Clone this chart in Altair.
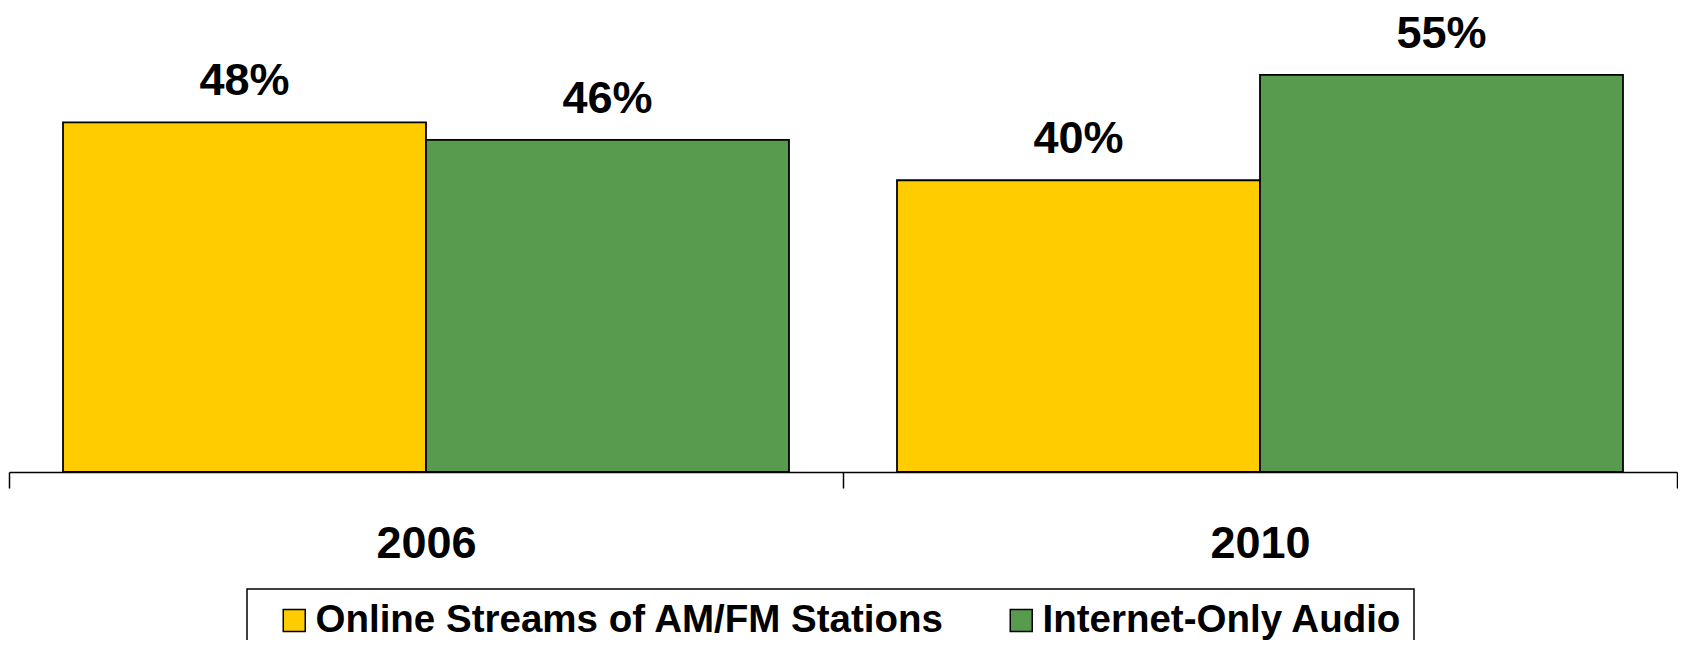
import altair as alt
import pandas as pd

years = ["2006", "2010"]
series = ["Online Streams of AM/FM Stations", "Internet-Only Audio"]
values_online = [48.4, 40.4]
values_internet = [46.0, 55.0]
labels_online = ["48%", "40%"]
labels_internet = ["46%", "55%"]
colors = ["#FFCC00", "#589B4F"]

rows = []
for i, yr in enumerate(years):
    rows.append({"year": yr, "series": series[0], "value": values_online[i], "label": labels_online[i]})
    rows.append({"year": yr, "series": series[1], "value": values_internet[i], "label": labels_internet[i]})
df = pd.DataFrame(rows)

FONT = "Liberation Sans"

base = alt.Chart(df).encode(
    x=alt.X(
        "year:N",
        sort=years,
        scale=alt.Scale(paddingInner=0, paddingOuter=0),
        axis=alt.Axis(
            title=None, labelAngle=0, tickBand="extent",
            domainColor="black", domainWidth=1.5,
            tickColor="black", tickWidth=1.5, tickSize=16,
            labelFont=FONT, labelFontSize=45, labelFontWeight="bold",
            labelColor="black", labelBaseline="alphabetic", labelPadding=69,
        ),
    ),
    xOffset=alt.XOffset("series:N", sort=series,
                        scale=alt.Scale(paddingOuter=0.1488, paddingInner=0)),
    y=alt.Y("value:Q", scale=alt.Scale(domain=[0, 64.25], nice=False, zero=True), axis=None),
)

bars = base.mark_bar(stroke="black", strokeWidth=1.8).encode(
    color=alt.Color(
        "series:N", sort=series,
        scale=alt.Scale(domain=series, range=colors),
        legend=alt.Legend(
            orient="none", legendX=238, legendY=581, direction="horizontal",
            title=None, strokeColor="black", padding=12,
            symbolType="square", symbolSize=484, symbolStrokeColor="black",
            symbolStrokeWidth=1.5, symbolOffset=16,
            labelFont=FONT, labelFontSize=38.5, labelFontWeight="bold",
            labelColor="black", labelOffset=2, columnPadding=41, labelLimit=0,
        ),
    )
)

text = base.mark_text(
    dy=-27, baseline="alphabetic", font=FONT, fontSize=45,
    fontWeight="bold", color="black",
).encode(text="label:N")

chart = (
    alt.layer(bars, text)
    .properties(
        width=1668, height=464,
        autosize=alt.AutoSizeParams(type="none"),
        padding={"left": 1, "top": 0, "right": 1, "bottom": 168},
    )
    .configure_view(stroke=None)
    .configure_legend(strokeWidth=1.5)
)

chart.save("out.html", embed_options={"renderer": "svg", "actions": False})
